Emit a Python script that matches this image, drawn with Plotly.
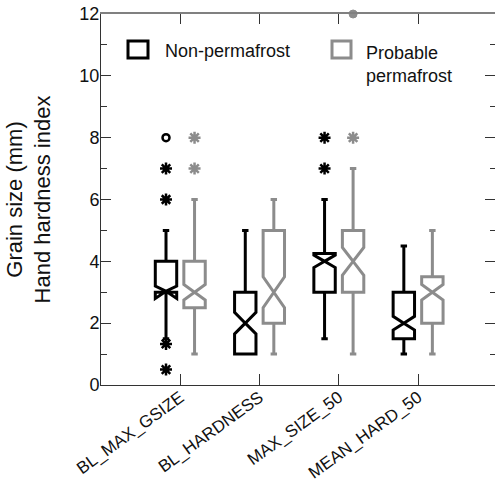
import plotly.graph_objects as go

categories = ["BL_MAX_GSIZE", "BL_HARDNESS", "MAX_SIZE_50", "MEAN_HARD_50"]

# Non-permafrost (black)
np_q1 = [3, 1, 3, 1.5]
np_med = [3, 2, 4, 2]
np_q3 = [4, 3, 4.25, 3]
np_lo = [1.5, 1, 1.5, 1]
np_hi = [5, 5, 6, 4.5]
np_notch = [0.2, 0.35, 0.2, 0.22]
np_star_cat = [0, 0, 0, 0, 2, 2]
np_star_val = [7, 6, 1.33, 0.5, 8, 7]
np_circ_cat = [0]
np_circ_val = [8]

# Probable permafrost (grey)
pp_q1 = [2.5, 2, 3, 2]
pp_med = [3, 3, 4, 3]
pp_q3 = [4, 5, 5, 3.5]
pp_lo = [1, 1, 1, 1]
pp_hi = [6, 6, 7, 5]
pp_notch = [0.25, 0.5, 0.45, 0.25]
pp_star_cat = [0, 0, 2]
pp_star_val = [8, 7, 8]
pp_circ_cat = [2]
pp_circ_val = [12]

y_major = [0, 2, 4, 6, 8, 10, 12]

BLACK = "#000000"
GREY = "#8c8c8c"
OFF = 0.18
BW = 0.27
FONT = "Liberation Sans, Arial, Helvetica, sans-serif"

fig = go.Figure()

def add_group(q1, med, q3, lo, hi, notch, color, off):
    xs = [i + off for i in range(len(categories))]
    fig.add_trace(go.Box(
        x=xs, q1=q1, median=med, q3=q3, lowerfence=lo, upperfence=hi,
        notched=True, notchspan=notch, notchwidth=0.5,
        width=BW, whiskerwidth=0.3, boxpoints=False,
        line=dict(color=color, width=3), fillcolor="rgba(0,0,0,0)",
        showlegend=False, hoverinfo="skip"))

def add_points(cats, vals, color, off, symbol, size, lw, fill=None):
    fig.add_trace(go.Scatter(
        x=[c + off for c in cats], y=vals, mode="markers",
        marker=dict(symbol=symbol, size=size, color=fill or color,
                    line=dict(color=color, width=lw)),
        showlegend=False, hoverinfo="skip", cliponaxis=False))

add_group(np_q1, np_med, np_q3, np_lo, np_hi, np_notch, BLACK, -OFF)
add_group(pp_q1, pp_med, pp_q3, pp_lo, pp_hi, pp_notch, GREY, OFF)
add_points(np_star_cat, np_star_val, BLACK, -OFF, "asterisk-open", 10, 2.5)
add_points(np_circ_cat, np_circ_val, BLACK, -OFF, "circle-open", 7, 2.5)
add_points(pp_star_cat, pp_star_val, GREY, OFF, "asterisk-open", 10, 2.5)
add_points(pp_circ_cat, pp_circ_val, GREY, OFF, "circle", 8, 1)

# invisible trace for secondary axes
fig.add_trace(go.Scatter(x=[0], y=[0], xaxis="x2", yaxis="y2", mode="markers",
                         marker=dict(opacity=0), showlegend=False, hoverinfo="skip"))

XR = [-1, 3.97]
fig.update_layout(
    width=495, height=484,
    margin=dict(l=101, r=0, t=14, b=99),
    paper_bgcolor="white", plot_bgcolor="white",
    font=dict(family=FONT, color="#111"),
    showlegend=False,
    xaxis=dict(range=XR, tickvals=list(range(len(categories))), ticktext=categories,
               ticks="inside", ticklen=11, tickwidth=1, tickcolor="#333",
               tickangle=-36, tickfont=dict(size=17), automargin=False,
               ticklabelstandoff=-5,
               showline=True, linecolor="#333", linewidth=1,
               showgrid=False, zeroline=False),
    yaxis=dict(range=[0, 12], tickvals=y_major, ticks="inside", ticklen=10,
               tickwidth=1, tickcolor="#333", tickfont=dict(size=18),
               ticklabelstandoff=-3, automargin=False,
               minor=dict(dtick=1, ticks="inside", ticklen=6, tickcolor="#333"),
               showline=True, linecolor="#333", linewidth=1,
               showgrid=False, zeroline=False,
               title=dict(text="Grain size (mm)<br>Hand hardness index",
                          font=dict(size=22), standoff=22)),
    xaxis2=dict(range=XR, overlaying="x", side="top", anchor="y",
                tickvals=list(range(len(categories))), ticks="inside", ticklen=10,
                tickcolor="#333", showticklabels=False, automargin=False,
                showline=True, linecolor="#808080", linewidth=2,
                showgrid=False, zeroline=False),
    yaxis2=dict(range=[0, 12], overlaying="y", side="right", anchor="x",
                tickvals=y_major, ticks="inside", ticklen=10, tickcolor="#333",
                minor=dict(dtick=1, ticks="inside", ticklen=5, tickcolor="#333"),
                showticklabels=False, showline=False, automargin=False,
                showgrid=False, zeroline=False),
)

def px2paper(px, py):
    return (px - 101) / 394, (385 - py) / 371

x0, y1 = px2paper(128, 41); x1, y0 = px2paper(148, 58)
fig.add_shape(type="rect", xref="paper", yref="paper", x0=x0, x1=x1, y0=y0, y1=y1,
              line=dict(color=BLACK, width=3))
x0, y1 = px2paper(332, 41); x1, y0 = px2paper(351, 58)
fig.add_shape(type="rect", xref="paper", yref="paper", x0=x0, x1=x1, y0=y0, y1=y1,
              line=dict(color=GREY, width=3))

tx, ty = px2paper(163, 51)
fig.add_annotation(text="Non-permafrost", xref="paper", yref="paper", x=tx, y=ty,
                   xanchor="left", yanchor="middle", showarrow=False,
                   font=dict(size=18, color="#111"))
tx, ty = px2paper(364, 65)
fig.add_annotation(text="Probable<br>permafrost", xref="paper", yref="paper", x=tx, y=ty,
                   xanchor="left", yanchor="middle", align="left", showarrow=False,
                   font=dict(size=18, color="#111"))

fig.write_html("out.html")
